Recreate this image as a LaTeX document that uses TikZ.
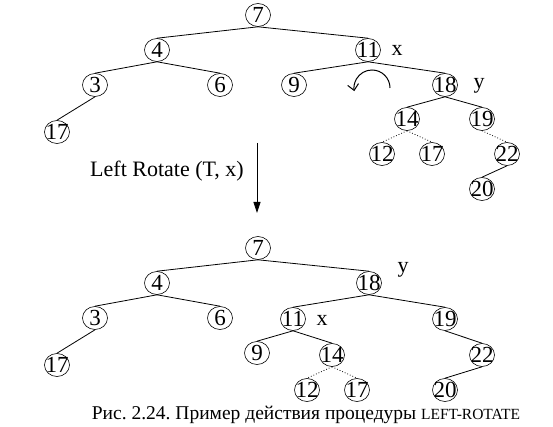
\documentclass[tikz,border=0pt]{standalone}
\usepackage{fontspec}
\setmainfont{Liberation Serif}
\frenchspacing
\usetikzlibrary{shapes.geometric,arrows.meta}
\begin{document}
\begin{tikzpicture}[x=1pt,y=-1pt,
    key/.style={ellipse,draw,line width=0.6pt,minimum width=25pt,minimum height=23pt,
        inner sep=0pt,font=\fontsize{23}{23}\selectfont},
    link/.style={line width=0.8pt},
    weak/.style={line width=0.8pt,dotted},
    tag/.style={inner sep=0pt,font=\fontsize{22}{22}\selectfont}]
    \useasboundingbox (0,0) rectangle (553,427);

    % Tree before the rotation
    \foreach \n/\x/\y/\t in {7/258/15/7, 4/157/50/4, 11/368/50/11, 3/95/85/3, 6/220/85/6,
        9/294/85/9, 18/445/85/18, 17a/57/132/17, 14/407/119/14, 19/482/119/19,
        12/382/154/12, 17b/432/154/17, 22/507/154/22, 20/482/189/20}
        \node[key] (u\n) at (\x,\y) {\makebox[0pt]{\t}};
    \foreach \a/\b in {7/4, 7/11, 4/3, 4/6, 3/17a, 11/9, 11/18, 18/14, 18/19, 22/20}
        \draw[link] (u\a.south) -- (u\b.north);
    \foreach \a/\b in {14/12, 14/17b, 19/22}
        \draw[weak] (u\a.south) -- (u\b.north);
    \node[tag] (ux) at (397,50) {x};
    \node[tag] (uy) at (479,86) {y};
    \draw[line width=1pt,-{Straight Barb[length=6pt,width=11pt]}] (390,88) arc[start angle=0,end angle=-190,radius=18];

    % The rotation step
    \coordinate (rotTop) at (257,143);
    \coordinate (rotBot) at (257,213);
    \draw[link,-{Triangle[length=11pt,width=7pt]}] (rotTop) -- (rotBot);
    \node[tag] (rotLabel) at (167,171) {Left Rotate (T, x)};

    % Tree after the rotation
    \foreach \n/\x/\y/\t in {7/258/248/7, 4/157/283/4, 18/369/283/18, 3/95/318/3, 6/220/318/6,
        11/293/319/11, 19/445/319/19, 17a/57/365/17, 9/257/353/9, 14/332/355/14,
        22/482/355/22, 12/307/390/12, 17b/357/390/17, 20/445/390/20}
        \node[key] (l\n) at (\x,\y) {\makebox[0pt]{\t}};
    \foreach \a/\b in {7/4, 7/18, 4/3, 4/6, 3/17a, 18/11, 18/19, 11/9, 11/14, 19/22, 22/20}
        \draw[link] (l\a.south) -- (l\b.north);
    \foreach \a/\b in {14/12, 14/17b}
        \draw[weak] (l\a.south) -- (l\b.north);
    \node[tag] (lx) at (322,320) {x};
    \node[tag] (ly) at (403,270) {y};

    \node[anchor=base,inner sep=0pt,font=\fontsize{19.5}{20}\selectfont] (caption) at (306,419)
        {Рис. 2.24. Пример действия процедуры {\fontsize{15.5}{16}\selectfont LEFT-ROTATE}};
\end{tikzpicture}
\end{document}
